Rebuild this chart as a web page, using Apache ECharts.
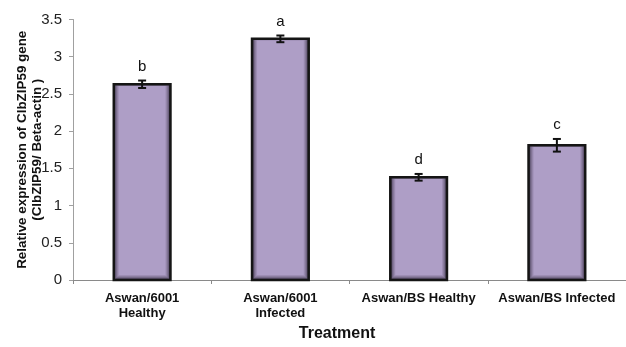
<!DOCTYPE html>
<html>
<head>
<meta charset="utf-8">
<script src="https://cdn.jsdelivr.net/npm/echarts@6/dist/echarts.min.js"></script>
<style>
  html, body { margin: 0; padding: 0; background: #fff; }
  #chart { width: 626px; height: 347px; }
</style>
</head>
<body>
<div id="chart"></div>
<script>
// Relative expression of ClbZIP59 per treatment, with standard error and significance groups
const categories = ['Aswan/6001\nHealthy', 'Aswan/6001\nInfected', 'Aswan/BS Healthy', 'Aswan/BS Infected'];
const expression = [2.63, 3.24, 1.38, 1.81];
const stdError = [0.05, 0.045, 0.045, 0.085];
const groupLetters = ['b', 'a', 'd', 'c'];
const yTicks = [0, 0.5, 1, 1.5, 2, 2.5, 3, 3.5];

const FILL = [174, 158, 198];   // light purple body
const EDGE = [60, 50, 72];      // dark shading near the frame
const BAR_RATIO = 0.41;
const FONT = '"Liberation Sans", Arial, sans-serif';

function mix(a, b, t) {
  return 'rgb(' + a.map((v, i) => Math.round(v + (b[i] - v) * t)).join(',') + ')';
}

// Bars with an inner shade: nested rects fading from the dark edge into the fill
function renderBar(params, api) {
  const idx = api.value(0);
  const top = api.coord([idx, api.value(1)]);
  const base = api.coord([idx, 0]);
  const w = api.size([1, 0])[0] * BAR_RATIO;
  const x0 = top[0] - w / 2;
  const y0 = top[1];
  const h = base[1] - top[1];
  const layers = 6;
  const children = [];
  for (let k = 0; k < layers; k++) {
    const t = k / (layers - 1);
    children.push({
      type: 'rect',
      shape: { x: x0 + k, y: y0 + k * 0.35, width: w - 2 * k, height: h - k - k * 0.35 },
      style: { fill: mix(EDGE, FILL, Math.pow(t, 0.7)) }
    });
  }
  children.push({
    type: 'rect',
    shape: { x: x0, y: y0, width: w, height: h },
    style: { fill: 'none', stroke: '#151515', lineWidth: 2.5 }
  });
  return { type: 'group', children: children };
}

// Error whiskers plus the significance letter above each one
function renderError(params, api) {
  const idx = api.value(0);
  const v = api.value(1);
  const e = api.value(2);
  const hi = api.coord([idx, v + e]);
  const lo = api.coord([idx, v - e]);
  const cap = 4;
  const style = { stroke: '#111', lineWidth: 2 };
  return {
    type: 'group',
    children: [
      { type: 'line', shape: { x1: hi[0], y1: hi[1], x2: lo[0], y2: lo[1] }, style: style },
      { type: 'line', shape: { x1: hi[0] - cap, y1: hi[1], x2: hi[0] + cap, y2: hi[1] }, style: style },
      { type: 'line', shape: { x1: lo[0] - cap, y1: lo[1], x2: lo[0] + cap, y2: lo[1] }, style: style },
      {
        type: 'text',
        x: hi[0], y: hi[1] - 14,
        style: {
          text: groupLetters[params.dataIndex],
          fill: '#111', font: '15px ' + FONT,
          align: 'center', verticalAlign: 'middle'
        }
      }
    ]
  };
}

const chart = echarts.init(document.getElementById('chart'), null, { renderer: 'canvas' });
chart.setOption({
  animation: false,
  backgroundColor: '#fff',
  grid: { left: 73, top: 19.5, width: 555, height: 263.8, containLabel: false },
  xAxis: {
    type: 'category',
    data: categories,
    name: 'Treatment',
    nameLocation: 'middle',
    nameGap: 46,
    nameMoveOverlap: false,
    nameTextStyle: {
      fontFamily: FONT,
      fontSize: 16, fontWeight: 'bold', color: '#111',
      padding: [0, 25, 0, 0]
    },
    axisLine: { show: true, lineStyle: { color: '#8a8a8a', width: 1 } },
    axisTick: { show: true, length: 4, lineStyle: { color: '#8a8a8a' } },
    axisLabel: {
      interval: 0, margin: 11,
      fontFamily: FONT,
      fontSize: 13, fontWeight: 'bold', color: '#111', lineHeight: 15
    },
    splitLine: { show: false }
  },
  yAxis: {
    type: 'value',
    min: yTicks[0],
    max: yTicks[yTicks.length - 1],
    interval: 0.5,
    name: 'Relative expression of ClbZIP59 gene\n(ClbZIP59/ Beta-actin )',
    nameLocation: 'middle',
    nameGap: 28,
    nameMoveOverlap: false,
    nameTextStyle: {
      fontFamily: FONT,
      fontSize: 13.4, fontWeight: 'bold', color: '#111', lineHeight: 15
    },
    axisLine: { show: true, lineStyle: { color: '#a0a0a0', width: 1 } },
    axisTick: { show: true, length: 4, lineStyle: { color: '#a0a0a0' } },
    axisLabel: {
      margin: 11,
      fontFamily: FONT,
      fontSize: 15, color: '#222',
      formatter: v => String(v)
    },
    splitLine: { show: false }
  },
  series: [
    {
      type: 'custom',
      renderItem: renderBar,
      encode: { x: 0, y: 1 },
      data: expression.map((v, i) => [i, v]),
      z: 2
    },
    {
      type: 'custom',
      renderItem: renderError,
      encode: { x: 0, y: 1 },
      data: expression.map((v, i) => [i, v, stdError[i]]),
      z: 3
    }
  ]
});
</script>
</body>
</html>
